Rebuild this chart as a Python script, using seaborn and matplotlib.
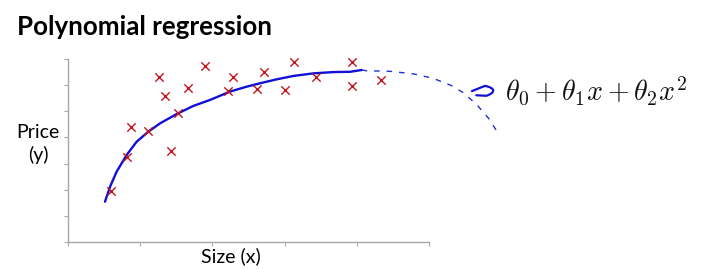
import matplotlib
matplotlib.use("Agg")
import matplotlib.pyplot as plt
from matplotlib.path import Path
from matplotlib.patches import PathPatch
import seaborn as sns
import pandas as pd

# ---- data ----
size_x = [0.589, 0.82, 0.866, 1.11, 1.264, 1.34, 1.42, 1.52, 1.667, 1.89,
          2.22, 2.28, 2.62, 2.72, 3.01, 3.125, 3.44, 3.94, 3.94, 4.34]
price_y = [1.96, 3.26, 4.39, 4.25, 6.31, 5.59, 3.49, 4.93, 5.89, 6.76,
           5.78, 6.33, 5.85, 6.53, 5.82, 6.89, 6.33, 6.89, 5.99, 6.21]

fit_x = [0.509, 0.579, 0.671, 0.810, 0.949, 1.11, 1.272, 1.504, 1.734, 1.966,
         2.243, 2.475, 2.66, 2.89, 3.12, 3.40, 3.68, 3.91, 4.07]
fit_y = [1.535, 2.11, 2.69, 3.33, 3.84, 4.22, 4.54, 4.90, 5.21, 5.44,
         5.76, 5.95, 6.08, 6.23, 6.36, 6.46, 6.51, 6.52, 6.59]

ext_x = [4.07, 4.14, 4.46, 4.79, 5.06, 5.30, 5.48, 5.67, 5.83, 5.95]
ext_y = [6.59, 6.56, 6.54, 6.44, 6.27, 6.01, 5.72, 5.25, 4.74, 4.22]

x_ticks = [0, 1, 2, 3, 4, 5]
y_ticks = [0, 1, 2, 3, 4, 5, 6, 7]

title = "Polynomial regression"
xlabel = "Size (x)"
ylabel = "Price\n(y)"
formula = r"$\theta_0 + \theta_1 x + \theta_2 x^2$"

# ---- figure ----
sns.set_theme(style="white")
plt.rcParams["font.family"] = ["Lato", "DejaVu Sans"]
plt.rcParams["mathtext.fontset"] = "cm"

W, H = 720, 269
fig = plt.figure(figsize=(W / 100, H / 100), dpi=100)
fig.patch.set_facecolor("white")
ax = fig.add_axes([68.3 / W, (H - 241.7) / H, 360.4 / W, 182.4 / H])
ax.set_facecolor("white")

pts = pd.DataFrame({"x": size_x, "y": price_y})
fit = pd.DataFrame({"x": fit_x, "y": fit_y})
ext = pd.DataFrame({"x": ext_x, "y": ext_y})

sns.lineplot(data=fit, x="x", y="y", ax=ax, sort=False, estimator=None,
             color="#1010d8", linewidth=1.7, clip_on=False, zorder=3)
sns.lineplot(data=ext, x="x", y="y", ax=ax, sort=False, estimator=None,
             color="#2030d0", linewidth=1.0, dashes=False, clip_on=False, zorder=3)
ax.lines[-1].set_dashes([4, 5])
sns.scatterplot(data=pts, x="x", y="y", ax=ax, marker="x", s=36,
                color="#c0141c", linewidth=1.0, zorder=4, clip_on=False)

ax.set_xlim(0, 5)
ax.set_ylim(0, 7)
ax.set_xticks(x_ticks)
ax.set_yticks(y_ticks)
ax.set_xticklabels([])
ax.set_yticklabels([])
ax.set_xlabel("")
ax.set_ylabel("")
for s in ["top", "right"]:
    ax.spines[s].set_visible(False)
for s in ["left", "bottom"]:
    ax.spines[s].set_color("#a8a8a8")
    ax.spines[s].set_linewidth(1.0)
ax.tick_params(axis="both", which="both", direction="out", length=3,
               width=0.8, color="#a8a8a8", bottom=True, left=True)

# hand-drawn hook arrow toward the formula
hook = Path([(5.60, 5.78), (5.78, 5.98), (5.93, 5.90), (5.93, 5.72),
             (5.80, 5.60), (5.66, 5.62)],
            [Path.MOVETO, Path.LINETO, Path.CURVE4, Path.CURVE4, Path.CURVE4,
             Path.LINETO])
ax.add_patch(PathPatch(hook, facecolor="none", edgecolor="#1010d8", lw=1.6,
                       clip_on=False, capstyle="round", joinstyle="round"))

fig.text(17 / W, 1 - 35 / H, title, fontsize=18.6, fontweight="bold",
         ha="left", va="baseline", color="black")
fig.text(231 / W, 1 - 256 / H, xlabel, fontsize=14, ha="center", va="center",
         color="black")
fig.text(38 / W, 1 - 144 / H, ylabel, fontsize=14, ha="center", va="center",
         color="black", linespacing=1.3)
fig.text(505 / W, 1 - 100 / H, formula, fontsize=20.2, ha="left",
         va="baseline", color="#111111")

fig.savefig("out.png", dpi=100, facecolor="white")
